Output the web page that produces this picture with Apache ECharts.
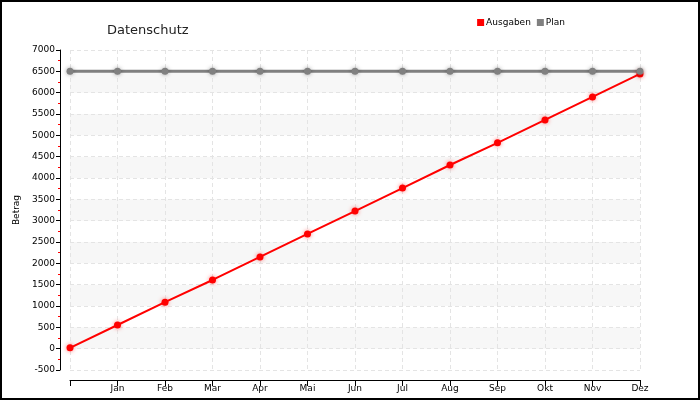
<!DOCTYPE html>
<html><head><meta charset="utf-8">
<script src="https://cdn.jsdelivr.net/npm/echarts@6/dist/echarts.min.js"></script>
<style>html,body{margin:0;padding:0;background:#fff}#c{width:700px;height:400px}</style>
</head><body><div id="c"></div>
<script>
const categories = ['', 'Jan', 'Feb', 'Mar', 'Apr', 'Mai', 'Jun', 'Jul', 'Aug', 'Sep', 'Okt', 'Nov', 'Dez'];
const ausgaben = [20, 555, 1090, 1610, 2150, 2690, 3225, 3765, 4305, 4825, 5360, 5900, 6440];
const plan = [6500, 6500, 6500, 6500, 6500, 6500, 6500, 6500, 6500, 6500, 6500, 6500, 6500];
const yMin = -500, yMax = 7000, yStep = 500;

const font = 'DejaVu Sans';
const chart = echarts.init(document.getElementById('c'));
chart.setOption({
  animation: false,
  textStyle: { fontFamily: font },
  title: { text: 'Datenschutz', left: 102, top: 19, textStyle: { fontFamily: font, fontSize: 13, fontWeight: 'normal', color: '#222' } },
  legend: {
    right: 130, top: 13, itemWidth: 7, itemHeight: 7, itemGap: 6,
    icon: 'rect',
    textStyle: { fontFamily: font, fontSize: 9, color: '#000', padding: [0, 0, 0, -3] },
    data: ['Ausgaben', 'Plan']
  },
  graphic: [{ type: 'rect', shape: { x: 1, y: 1, width: 698, height: 398 }, style: { fill: 'none', stroke: '#000', lineWidth: 2 }, z: 100 }],
  grid: { left: 70, right: 60, top: 50, bottom: 30 },
  xAxis: {
    type: 'category', data: categories, boundaryGap: false, offset: 10,
    axisLine: { onZero: false, lineStyle: { color: '#000', width: 1 } },
    axisTick: { show: true, length: 6, lineStyle: { color: '#000' } },
    axisLabel: { fontFamily: font, fontSize: 9, color: '#000', margin: 4, interval: 0 },
    splitLine: { show: true, lineStyle: { color: '#e4e4e4', type: [4, 3] } }
  },
  yAxis: {
    type: 'value', min: yMin, max: yMax, interval: yStep, offset: 10,
    name: 'Betrag', nameLocation: 'middle', nameGap: 33, nameRotate: 90,
    nameTextStyle: { fontFamily: font, fontSize: 9, color: '#000' },
    axisLine: { show: true, onZero: false, lineStyle: { color: '#000', width: 1 } },
    axisTick: { show: true, length: 4, lineStyle: { color: '#000' } },
    minorTick: { show: true, splitNumber: 2, length: 2, lineStyle: { color: '#ff0000' } },
    axisLabel: { fontFamily: font, fontSize: 9, color: '#000', margin: 5, formatter: v => String(v) },
    splitLine: { show: true, lineStyle: { color: '#e4e4e4', type: [4, 3] } },
    splitArea: { show: true, areaStyle: { color: ['#ffffff', '#f7f7f7'] } }
  },
  series: [
    {
      name: 'Ausgaben', type: 'line', data: ausgaben, color: '#ff0000',
      symbol: 'circle', symbolSize: 7,
      lineStyle: { width: 2, color: '#ff0000' },
      itemStyle: { color: '#ff0000', shadowColor: 'rgba(255,0,0,0.5)', shadowBlur: 4 }
    },
    {
      name: 'Plan', type: 'line', data: plan, color: '#808080',
      symbol: 'circle', symbolSize: 7,
      lineStyle: { width: 3, color: '#808080' },
      itemStyle: { color: '#808080', shadowColor: 'rgba(0,0,0,0.35)', shadowBlur: 4 }
    }
  ]
});
</script></body></html>
